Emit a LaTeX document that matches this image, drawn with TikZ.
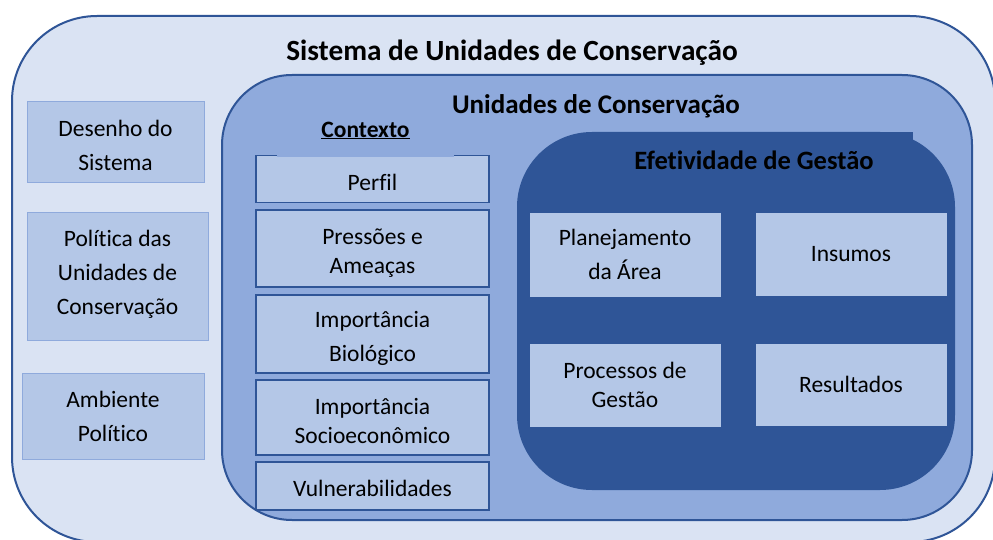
\documentclass[tikz,border=0pt]{standalone}
\usepackage{fontspec}
\setmainfont{Carlito}[Ligatures=NoCommon]
\usepackage{tikz}
\usetikzlibrary{positioning}
\definecolor{paleblue}{HTML}{DAE3F3}
\definecolor{midblue}{HTML}{8FAADC}
\definecolor{boxblue}{HTML}{B4C7E7}
\definecolor{darkblue}{HTML}{2F5597}
\newcommand{\diagtext}{\fontsize{23.5}{34}\selectfont}
\newcommand{\diagtight}{\fontsize{23.5}{29}\selectfont}
\tikzstyle{frame} = [rectangle, draw=darkblue, line width=2pt, inner sep=0pt]
\tikzstyle{object} = [rectangle, fill=boxblue, draw=darkblue, line width=1.3pt, inner sep=0pt, align=center, text centered, font=\diagtext]
\tikzstyle{side} = [object, draw=midblue, line width=1pt]
\tikzstyle{item} = [object, draw=boxblue, line width=0.8pt]
\tikzstyle{caption} = [inner sep=0pt, align=center, font=\diagtext]
\tikzstyle{heading} = [inner sep=0pt, font=\bfseries\fontsize{27}{32}\selectfont]

\begin{document}
\begin{tikzpicture}[x=1pt, y=-1pt]
    \useasboundingbox (0,0) rectangle (993,540);
    \clip (0,0) rectangle (993,540);
    % outer and middle frames
    \node (sistema) [frame, fill=paleblue, rounded corners=85pt, minimum width=983pt, minimum height=526pt] at (503.5,279) {};
    \node (unidades) [frame, fill=midblue, rounded corners=70pt, minimum width=750pt, minimum height=445pt] at (597,297.5) {};
    % contexto column
    \node (perfil) [object, minimum width=233pt, minimum height=47pt] at (372.5,179) {};
    \node (pressoes) [object, minimum width=233pt, minimum height=77pt] at (372.5,248.5) {};
    \node (biologico) [object, minimum width=233pt, minimum height=78pt] at (372.5,334) {};
    \node (socio) [object, minimum width=233pt, minimum height=75pt] at (372.5,417.5) {};
    \node (vulner) [object, minimum width=233pt, minimum height=48pt] at (372.5,486) {};
    \node [caption] at ([yshift=-3pt]perfil.center) {Perfil};
    \node [caption, font=\diagtight] at ([yshift=-5pt]pressoes.center) {Pressões e\\Ameaças};
    \node [caption] at ([yshift=-4.5pt]biologico.center) {Importância\\Biológico};
    \node [caption, font=\diagtight] at ([yshift=-3.5pt]socio.center) {Importância\\Socioeconômico};
    \node [caption] at ([yshift=-2pt]vulner.center) {Vulnerabilidades};
    \node (contexto) [fill=midblue, inner sep=0pt, minimum width=177pt, minimum height=54pt, font=\bfseries\fontsize{23.5}{28}\selectfont] at (365.5,130.5) {\underline{Contexto}};
    % efetividade de gestao
    \node (efetividade) [rectangle, fill=darkblue, rounded corners=75pt, inner sep=0pt, minimum width=438pt, minimum height=358pt] at (736,311) {};
    \node (efettitle) [heading, fill=darkblue, minimum width=318pt, minimum height=56pt, font=\bfseries\fontsize{26.5}{32}\selectfont] at (754,160) {Efetividade de Gestão};
    \node (planej) [item, minimum width=190pt, minimum height=83pt] at (625,254.5) {Planejamento\\da Área};
    \node (insumos) [item, minimum width=190pt, minimum height=82pt] at (851,254) {Insumos};
    \node (processos) [item, font=\diagtight, minimum width=190pt, minimum height=82pt] at (625,385) {Processos de\\Gestão};
    \node (resultados) [item, minimum width=190pt, minimum height=81pt] at (851,384.5) {Resultados};
    % left column
    \node (desenho) [side, minimum width=177pt, minimum height=81pt] at (115.5,142.5) {};
    \node (politica) [side, minimum width=181pt, minimum height=127pt] at (117.5,276.5) {};
    \node (ambiente) [side, minimum width=182pt, minimum height=86pt] at (113,416) {Ambiente\\Político};
    \node [caption] at ([yshift=-2.5pt]desenho.center) {Desenho do\\Sistema};
    \node [caption] at ([yshift=2.5pt]politica.center) {Política das\\Unidades de\\Conservação};
    % titles
    \node (sistitle) [heading, font=\bfseries\fontsize{29.3}{34}\selectfont] at (512,52.5) {Sistema de Unidades de Conservação};
    \node (unititle) [heading] at (596,106.5) {Unidades de Conservação};
\end{tikzpicture}
\end{document}
